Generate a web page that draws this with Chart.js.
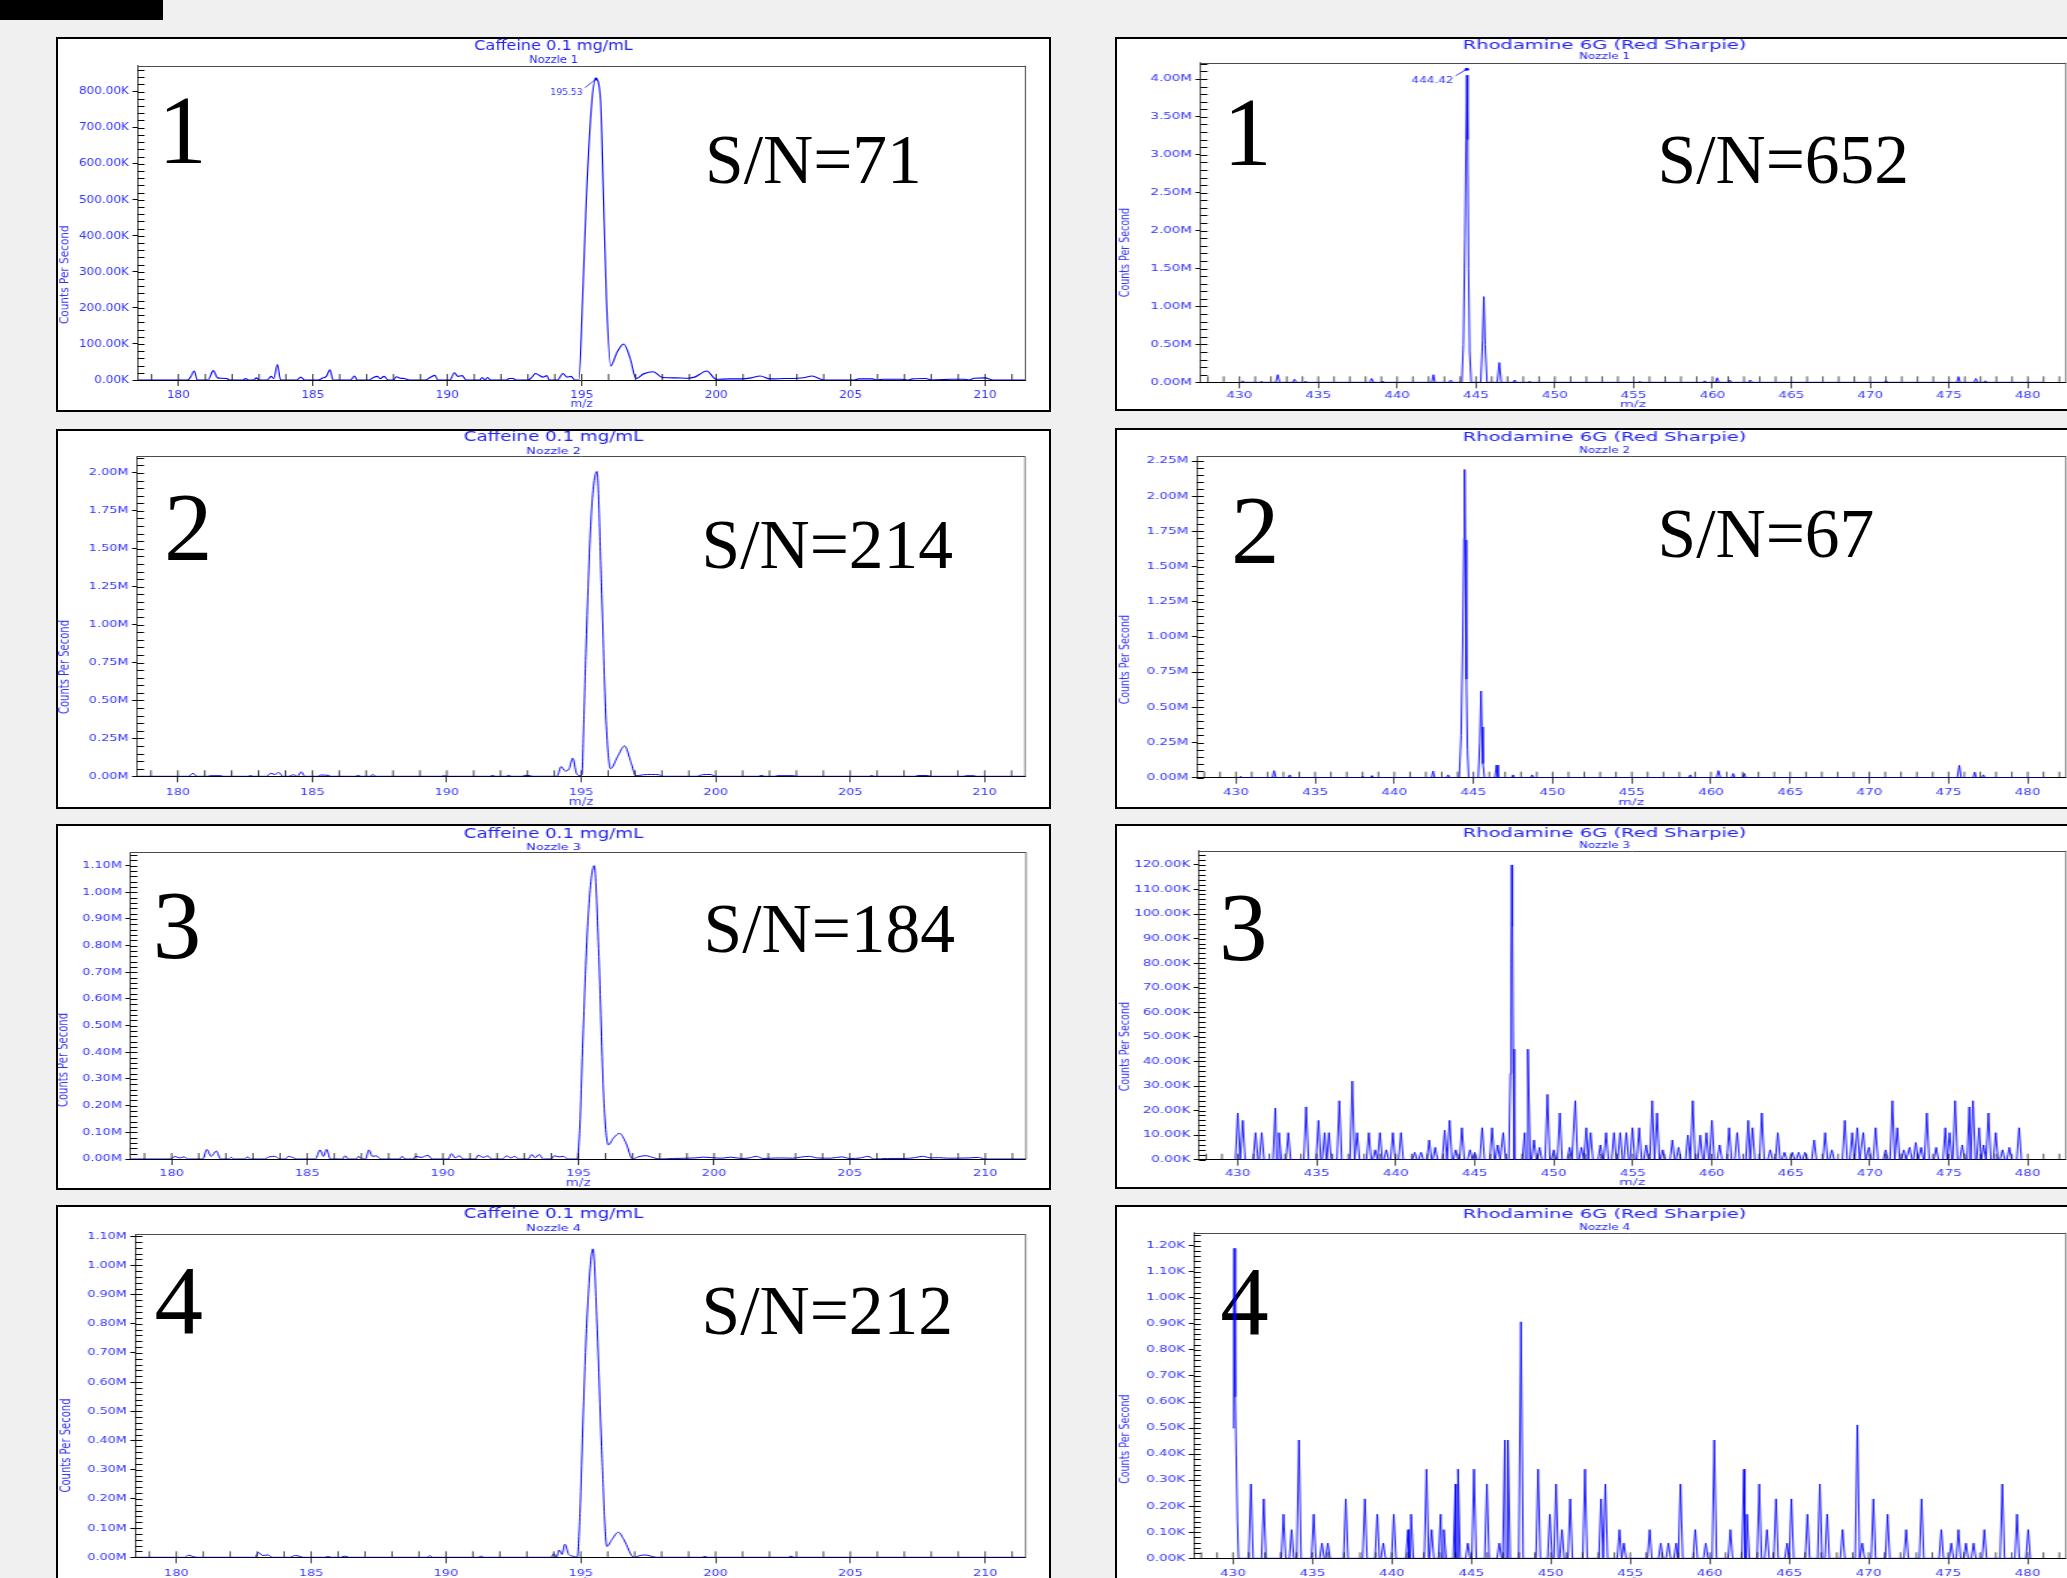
<!DOCTYPE html>
<html><head><meta charset="utf-8">
<script src="https://cdn.jsdelivr.net/npm/chart.js@4/dist/chart.umd.min.js"></script>
<style>
html,body{margin:0;padding:0;background:#f0f0f0;width:2067px;height:1578px;overflow:hidden;position:relative;}
.panel{position:absolute;box-sizing:border-box;border:2px solid #000;background:#fff;z-index:1;}
.big{position:absolute;font-family:"Liberation Serif","Times New Roman",serif;color:#000;line-height:1;white-space:nowrap;z-index:2;}
canvas{position:absolute;z-index:3;transform-origin:0 0;}
#blk{position:absolute;left:0;top:0;width:163px;height:20px;background:#000;}
</style></head><body>
<div id="blk"></div>
<script>
// ===== DATA (m/z, counts per second in axis units) =====
const cafRange = [178.48, 211.5];
const rhoRange = [427.53, 482.4];

// Caffeine nozzle 1 (K cps)
const caf1Points = [[178.5,0],[180.35,0],[180.45,8],[180.59,25],[180.7,0],[181.1,0],[181.3,26],[181.45,6],[181.6,5],[181.8,4],[181.9,0],[182.4,0],[182.5,4],[182.6,0],[182.8,0],[182.9,6],[183.0,0],[183.3,0],[183.45,10],[183.55,4],[183.68,43],[183.8,0],[184.4,0],[184.55,8],[184.7,0],[185.2,0],[185.35,5],[185.5,10],[185.64,28],[185.75,0],[186.4,0],[186.55,11],[186.65,0],[187.1,0],[187.25,7],[187.4,10],[187.5,4],[187.65,10],[187.8,0],[188.0,0],[188.1,9],[188.25,5],[188.4,4],[188.6,0],[189.2,0],[189.3,4],[189.54,13],[189.65,0],[190.1,0],[190.26,20],[190.4,10],[190.55,12],[190.7,0],[191.2,0],[191.3,7],[191.4,0],[191.5,7],[191.6,0],[192.2,0],[192.3,4],[192.45,4],[192.55,0],[193.0,0],[193.15,8],[193.28,18],[193.42,13],[193.55,8],[193.7,12],[193.8,0],[194.1,0],[194.3,18],[194.45,8],[194.6,10],[194.75,0],[194.89,0],[195.03,222],[195.17,500],[195.38,777],[195.53,835],[195.7,777],[195.81,500],[195.92,222],[196.08,39],[196.3,75],[196.56,100],[196.8,60],[197.02,4],[197.3,17],[197.66,23],[198.0,7],[198.5,6],[198.94,5],[199.2,8],[199.65,25],[200.0,2],[200.5,3],[201.0,3],[201.3,6],[201.64,11],[202.0,3],[202.5,4],[203.0,5],[203.3,7],[203.56,11],[204.0,0],[205.1,0],[205.3,3],[205.8,3],[206.0,0],[206.2,2],[206.9,2],[207.1,0],[207.3,3],[207.8,4],[208.0,0],[208.8,2],[209.2,2],[209.4,0],[209.6,5],[210.0,6],[210.3,0],[211.5,0]];
const caf1Label = [195.53, 835];

// Caffeine nozzle 2 (M cps)
const caf2Points = [[178.5,0],[180.4,0],[180.56,0.02],[180.7,0],[181.1,0],[181.2,0.004],[181.6,0.004],[181.7,0],[182.6,0],[182.7,0.005],[182.8,0],[183.3,0],[183.45,0.02],[183.6,0.012],[183.75,0.025],[183.9,0],[184.1,0],[184.3,0.01],[184.45,0],[184.59,0.03],[184.72,0],[185.2,0],[185.3,0.008],[185.6,0.006],[185.7,0],[186.6,0],[186.7,0.006],[186.8,0],[187.15,0],[187.25,0.012],[187.35,0],[189.8,0],[189.9,0.004],[190.0,0],[191.6,0],[191.7,0.006],[191.8,0],[192.2,0],[192.3,0.006],[192.4,0],[192.8,0],[192.9,0.006],[193.1,0.004],[193.2,0],[194.1,0],[194.25,0.064],[194.4,0.035],[194.55,0.05],[194.68,0.12],[194.82,0.02],[194.95,0.005],[195.02,0.01],[195.1,0.4],[195.17,0.81],[195.36,1.69],[195.58,2.01],[195.75,1.25],[195.92,0.37],[196.09,0.05],[196.35,0.13],[196.61,0.2],[196.85,0.09],[197.03,0.003],[197.3,0.01],[197.6,0.012],[197.9,0.01],[198.0,0],[199.3,0],[199.5,0.01],[199.8,0.012],[200.0,0],[201.6,0],[201.7,0.006],[201.8,0],[202.2,0],[202.3,0.004],[202.9,0.004],[203.0,0],[205.7,0],[205.8,0.005],[205.9,0],[207.4,0],[207.5,0.005],[207.9,0.005],[208.0,0],[209.2,0],[209.3,0.004],[209.6,0.004],[209.7,0],[211.5,0]];

// Caffeine nozzle 3 (M cps)
const caf3Points = [[178.5,0],[180.0,0],[180.1,0.01],[180.3,0.004],[180.45,0.008],[180.6,0],[181.15,0],[181.3,0.036],[181.45,0.01],[181.65,0.03],[181.8,0],[182.1,0],[182.2,0.006],[182.3,0],[182.7,0],[182.8,0.008],[182.9,0],[183.4,0],[183.6,0.008],[183.8,0.01],[184.0,0],[184.2,0],[184.3,0.01],[184.5,0.004],[184.6,0],[185.3,0],[185.47,0.034],[185.6,0.01],[185.71,0.036],[185.85,0],[186.3,0],[186.4,0.012],[186.5,0],[186.8,0],[186.9,0.01],[187.0,0],[187.15,0],[187.27,0.034],[187.4,0.01],[187.55,0.012],[187.7,0],[188.4,0],[188.5,0.01],[188.6,0],[188.9,0],[189.0,0.01],[189.2,0.006],[189.45,0.014],[189.6,0],[190.2,0],[190.32,0.02],[190.45,0.004],[190.6,0.012],[190.75,0],[191.2,0],[191.3,0.014],[191.5,0.006],[191.65,0.012],[191.8,0],[192.2,0],[192.35,0.012],[192.5,0.004],[192.65,0.01],[192.8,0],[193.15,0],[193.27,0.017],[193.4,0.005],[193.55,0.017],[193.7,0],[194.0,0],[194.1,0.012],[194.3,0.008],[194.45,0.01],[194.6,0],[194.95,0],[195.05,0.12],[195.15,0.415],[195.36,0.915],[195.58,1.1],[195.74,0.79],[195.93,0.23],[196.1,0.053],[196.3,0.08],[196.51,0.096],[196.75,0.06],[196.99,0],[197.2,0.008],[197.47,0.0125],[197.8,0.004],[198.0,0],[198.5,0.002],[199.3,0.004],[199.6,0.007],[199.9,0.005],[200.3,0.003],[200.6,0.007],[201.0,0.002],[201.3,0.004],[201.56,0.01],[201.8,0.002],[202.4,0.004],[202.9,0.003],[203.2,0.007],[203.5,0.01],[203.8,0.004],[204.3,0.003],[204.7,0.008],[205.0,0.002],[205.4,0.004],[205.67,0.01],[205.9,0],[206.4,0.002],[207.0,0.002],[207.4,0.005],[207.68,0.01],[208.0,0.004],[208.3,0.005],[208.6,0.003],[209.4,0.004],[209.72,0.006],[210.0,0],[211.5,0]];

// Caffeine nozzle 4 (M cps)
const caf4Points = [[178.5,0],[180.3,0],[180.45,0.007],[180.6,0.003],[180.75,0],[182.9,0],[183.05,0.016],[183.2,0.006],[183.4,0.008],[183.55,0],[184.2,0],[184.4,0.006],[184.55,0.004],[184.7,0],[185.5,0],[185.6,0.003],[185.75,0],[186.1,0],[186.25,0.004],[186.4,0],[189.3,0],[189.4,0.006],[189.5,0],[191.2,0],[191.3,0.004],[191.4,0],[193.9,0],[194.0,0.012],[194.1,0],[194.2,0.025],[194.3,0.01],[194.41,0.045],[194.55,0.01],[194.7,0.004],[194.87,0],[194.97,0.15],[195.09,0.49],[195.24,0.835],[195.45,1.056],[195.61,0.78],[195.77,0.38],[195.97,0.037],[196.15,0.06],[196.39,0.086],[196.6,0.06],[196.97,0],[197.2,0.006],[197.38,0.008],[197.6,0.004],[197.8,0],[199.5,0],[199.6,0.003],[199.7,0],[202.7,0],[202.8,0.004],[202.9,0],[211.5,0]];

// Rhodamine 6G nozzle 1 (M cps)
const rho1Points = [[430.1,0],[430.2,0.02],[430.3,0],[431.3,0],[431.4,0.015],[431.5,0],[432.3,0],[432.43,0.1],[432.55,0],[433.4,0],[433.49,0.04],[433.6,0],[434.1,0],[434.2,0.015],[434.3,0],[438.27,0],[438.38,0.05],[438.5,0],[439.0,0],[439.1,0.015],[439.2,0],[442.2,0],[442.3,0.1],[442.4,0],[443.3,0],[443.4,0.03],[443.5,0],[444.1,0],[444.2,0.5],[444.3,1.9],[444.37,3.2],[444.42,4.05],[444.47,3.2],[444.53,1.5],[444.6,0.4],[444.7,0],[445.3,0],[445.42,0.55],[445.5,1.13],[445.58,0.5],[445.7,0],[446.35,0],[446.48,0.26],[446.6,0],[447.35,0],[447.46,0.03],[447.55,0],[448.3,0],[448.4,0.015],[448.5,0],[455.3,0],[455.4,0.015],[455.5,0],[459.4,0],[459.5,0.02],[459.6,0],[460.2,0],[460.3,0.06],[460.4,0],[461.0,0],[461.1,0.03],[461.2,0],[462.3,0],[462.4,0.03],[462.5,0],[470.9,0],[471.0,0.02],[471.1,0],[475.5,0],[475.6,0.075],[475.7,0],[476.6,0],[476.7,0.05],[476.8,0],[477.2,0],[477.3,0.02],[477.4,0],[481.0,0]];
const rho1Label = [444.42, 4.13];

// Rhodamine 6G nozzle 2 (M cps)
const rho2Points = [[430.2,0],[430.3,0.01],[430.4,0],[432.3,0],[432.41,0.05],[432.52,0],[433.3,0],[433.4,0.02],[433.5,0],[437.9,0],[438.0,0.01],[438.1,0],[438.5,0],[438.6,0.015],[438.7,0],[442.35,0],[442.45,0.047],[442.55,0],[443.3,0],[443.4,0.02],[443.5,0],[444.1,0],[444.22,0.3],[444.32,0.95],[444.4,1.7],[444.44,2.19],[444.48,1.69],[444.55,0.7],[444.62,0.2],[444.7,0],[445.3,0],[445.4,0.25],[445.48,0.616],[445.53,0.36],[445.6,0.1],[445.7,0],[446.35,0],[446.46,0.09],[446.55,0],[447.4,0],[447.5,0.02],[447.6,0],[448.6,0],[448.7,0.02],[448.8,0],[458.6,0],[458.7,0.02],[458.8,0],[460.35,0],[460.47,0.05],[460.6,0],[461.3,0],[461.4,0.03],[461.5,0],[462.0,0],[462.1,0.03],[462.2,0],[475.55,0],[475.68,0.088],[475.8,0],[476.55,0],[476.65,0.04],[476.75,0],[477.1,0],[477.2,0.02],[477.3,0],[481.0,0]];

// Rhodamine 6G nozzle 3 (K cps): main peak profile + noise spikes [m/z, height]
const rho3Main = [[447.15,0],[447.25,35],[447.3,80],[447.34,120],[447.38,95],[447.43,45],[447.5,0]];
const rho3Spikes = [[430.0,19],[430.32,16],[431.13,11],[431.52,11],[432.38,21],[432.61,11],[433.2,11],[434.33,21.5],[435.11,16],[435.5,11],[435.77,11],[436.43,24],[437.25,32],[437.56,11],[438.3,11],[438.7,4],[439.0,11],[439.4,4],[439.82,11],[440.33,11],[441.2,3],[441.6,3],[442.12,8],[442.5,5],[443.1,12],[443.41,16],[443.8,4],[444.19,13],[444.7,4],[445.0,3],[445.47,13],[446.1,13],[446.45,6],[446.8,11],[448.16,11],[448.36,45],[448.75,8],[449.1,5],[449.6,26.6],[450.0,4],[450.38,19],[451.0,5],[451.36,24],[451.75,5],[452.06,13],[452.33,11],[452.95,6],[453.31,11],[453.81,11],[454.2,11],[454.59,11],[454.98,13],[455.41,13],[455.85,6],[456.23,24],[456.54,19],[456.9,4],[457.51,8],[457.9,5],[458.49,10],[458.8,24],[459.27,10],[459.66,11],[460.01,16],[460.5,6],[461.1,13],[461.61,11],[462.31,16],[462.58,13],[463.17,19],[463.7,4],[464.18,11],[464.6,3],[465.1,3],[465.5,3],[465.9,3],[466.48,8],[467.18,11],[467.6,4],[468.42,16],[468.89,11],[469.21,13],[469.59,11],[469.95,5],[470.37,13],[471.0,4],[471.43,24],[471.74,13],[472.15,4],[472.52,5],[472.91,7],[473.25,5],[473.61,19],[474.2,5],[474.78,13],[475.05,11],[475.4,24],[475.85,6],[476.3,21.5],[476.53,24],[476.92,13],[477.2,6],[477.51,19],[477.97,11],[478.4,4],[478.83,5],[479.45,13]];

// Rhodamine 6G nozzle 4 (K cps)
const rho4Main = [[430.0,0.5],[430.05,0.95],[430.08,1.19],[430.12,1.08],[430.16,0.62],[430.2,0.4],[430.28,0.14],[430.35,0]];
const rho4Spikes = [[431.13,0.285],[431.94,0.228],[433.18,0.169],[433.69,0.11],[434.15,0.454],[435.08,0.169],[435.6,0.058],[435.97,0.058],[437.1,0.228],[438.3,0.228],[439.08,0.169],[439.46,0.058],[440.12,0.169],[441.02,0.11],[441.21,0.169],[442.18,0.342],[442.5,0.11],[443.07,0.169],[443.27,0.11],[444.0,0.285],[444.16,0.342],[444.78,0.058],[445.17,0.342],[445.98,0.285],[446.76,0.058],[447.11,0.454],[447.3,0.454],[448.12,0.908],[449.2,0.342],[449.94,0.169],[450.33,0.285],[450.7,0.11],[451.22,0.228],[452.15,0.342],[453.16,0.228],[453.43,0.285],[454.32,0.11],[454.6,0.058],[456.22,0.11],[456.92,0.058],[457.4,0.058],[457.89,0.058],[458.16,0.285],[459.09,0.11],[459.75,0.058],[460.29,0.454],[461.3,0.11],[462.16,0.342],[462.35,0.169],[463.12,0.285],[463.6,0.11],[464.17,0.228],[464.87,0.058],[465.14,0.228],[466.15,0.169],[466.93,0.285],[467.39,0.169],[468.36,0.11],[469.29,0.512],[469.6,0.058],[470.3,0.228],[471.19,0.169],[472.36,0.11],[473.33,0.228],[474.57,0.11],[475.2,0.058],[475.65,0.11],[476.12,0.058],[476.6,0.058],[477.28,0.11],[478.41,0.285],[479.34,0.169],[480.04,0.11]];

// Titles / units / axis settings
const cafTitle = 'Caffeine 0.1 mg/mL';
const rhoTitle = 'Rhodamine 6G (Red Sharpie)';
const nozzles = ['Nozzle 1','Nozzle 2','Nozzle 3','Nozzle 4'];
const yUnits  = {c1:'K', c2:'M', c3:'M', c4:'M', r1:'M', r2:'M', r3:'K', r4:'K'};
const yMaxes  = {c1:872, c2:2.11, c3:1.15, c4:1.106, r1:4.215, r2:2.286, r3:125.8, r4:1.25};
const ySteps  = {c1:100, c2:0.25, c3:0.1, c4:0.1, r1:0.5, r2:0.25, r3:10, r4:0.1};
const yMinors = {c1:20, c2:0.05, c3:0.02, c4:0.02, r1:0.1, r2:0.05, r3:2, r4:0.02};
const snLabels = {c1:'S/N=71', c2:'S/N=214', c3:'S/N=184', c4:'S/N=212', r1:'S/N=652', r2:'S/N=67'};

// ===== LAYOUT (pixel positions, sizes, styles) =====
const FONT = '"DejaVu Sans", Verdana, sans-serif';
const TICK_COLOR = '#3434ff';
const TITLE_COLOR = '#2222f4';
const LINE_COLOR = '#0000ff';
const cFonts = {title:13.5, sub:9.5, tick:9.5, axis:10};
const rFonts = {title:13, sub:8, tick:9, axis:9.5};
const layout = {
  c1:{box:[56,37,995,375], plot:[137.5,1025.4,65.7,380], sx:1.15, titleY:46.7, subY:60.3, xTickY:395, xTitleY:404, yTitle:[65.4,274.7], fonts:{title:14, sub:10, tick:10.5, axis:10.5}},
  c2:{box:[56,429,995,380], plot:[137,1025,456.3,776.3], sx:1.35, titleY:437.7, subY:451.3, xTickY:792.3, xTitleY:803.3, yTitle:[65.4,667], fonts:cFonts},
  c3:{box:[56,824,995,366], plot:[130.4,1026,852.3,1159], sx:1.35, titleY:834, subY:847.3, xTickY:1174, xTitleY:1183.3, yTitle:[64.1,1060], fonts:cFonts},
  c4:{box:[56,1205,995,385], plot:[135.4,1025.6,1234.3,1557.3], sx:1.35, titleY:1214.7, subY:1228.3, xTickY:1573.3, xTitleY:1582, yTitle:[66,1445.5], fonts:cFonts},
  r1:{box:[1115,37,979,374], plot:[1200.5,2065.7,62.7,382.3], sx:1.5, titleY:45.7, subY:57.3, xTickY:395.7, xTitleY:405, yTitle:[1125.6,252.5], fonts:rFonts},
  r2:{box:[1115,428,979,381], plot:[1196.8,2065.7,456,777.7], sx:1.5, titleY:437.7, subY:450.7, xTickY:792.7, xTitleY:803.3, yTitle:[1125.6,659.7], fonts:rFonts},
  r3:{box:[1115,824,979,365], plot:[1198.7,2065.7,850.7,1159.7], sx:1.5, titleY:833.3, subY:845.7, xTickY:1174, xTitleY:1185, yTitle:[1125.2,1046.7], fonts:rFonts},
  r4:{box:[1115,1205,979,385], plot:[1193.7,2065.7,1232.7,1558.3], sx:1.5, titleY:1214.7, subY:1228, xTickY:1573.3, xTitleY:1582, yTitle:[1125.6,1439.2], fonts:rFonts}
};
const lineWidthFull = 1.3; // rendered width of vertical strokes, full px
const spikeHalfWidth = {r3:0.15, r4:0.14};
const peakLabelPos = {c1:{dx:-13.4, dy:13.4, lx:-11, ly:8.7, size:8}, r1:{dx:-13.3, dy:11.7, lx:-11.3, ly:6.7, size:8}};
// big overlay text: [text, panel, left, baseline, font size]
const bigText = [
  ['1','c1',158.3,163,97],['2','c2',164,560,97],['3','c3',152.8,958,97],['4','c4',154.5,1333,97],
  ['1','r1',1223.3,165,97],['2','r2',1231,563,97],['3','r3',1219,960,97],['4','r4',1220.3,1334,97]
];
const snPos = {c1:[705,183],c2:[701.5,568],c3:[703.5,952],c4:[701.5,1334],r1:[1657.5,183],r2:[1657.5,557]};
const SN_SIZE = 69.5;

function toXY(pairs){ return pairs.map(p => ({x:p[0], y:p[1]})); }
function spikeProfile(main, spikes, hw){
  const pts = toXY(main);
  spikes.forEach(([m, v]) => { pts.push({x:m-hw, y:0}, {x:m, y:v}, {x:m+hw, y:0}); });
  pts.sort((a, b) => a.x - b.x);
  return pts;
}

const series = {
  c1:{pts:toXY(caf1Points), smooth:true, title:cafTitle, sub:nozzles[0], range:cafRange, label:caf1Label},
  c2:{pts:toXY(caf2Points), smooth:true, title:cafTitle, sub:nozzles[1], range:cafRange},
  c3:{pts:toXY(caf3Points), smooth:true, title:cafTitle, sub:nozzles[2], range:cafRange},
  c4:{pts:toXY(caf4Points), smooth:true, title:cafTitle, sub:nozzles[3], range:cafRange},
  r1:{pts:toXY(rho1Points), smooth:false, title:rhoTitle, sub:nozzles[0], range:rhoRange, label:rho1Label},
  r2:{pts:toXY(rho2Points), smooth:false, title:rhoTitle, sub:nozzles[1], range:rhoRange},
  r3:{pts:spikeProfile(rho3Main, rho3Spikes, spikeHalfWidth.r3), smooth:false, title:rhoTitle, sub:nozzles[2], range:rhoRange},
  r4:{pts:spikeProfile(rho4Main, rho4Spikes, spikeHalfWidth.r4), smooth:false, title:rhoTitle, sub:nozzles[3], range:rhoRange}
};

const decor = {
  id:'decor',
  afterDraw(chart, args, o){
    const {ctx, chartArea:a, scales:{x, y}} = chart;
    const sx = o.sx;
    ctx.save();
    ctx.strokeStyle = '#4a4a4a';
    ctx.lineWidth = 1;
    ctx.beginPath(); ctx.moveTo(a.left, Math.round(a.top) + 0.5); ctx.lineTo(a.right, Math.round(a.top) + 0.5); ctx.stroke();
    ctx.lineWidth = 1 / sx;
    ctx.beginPath(); ctx.moveTo(a.right, a.top); ctx.lineTo(a.right, a.bottom); ctx.stroke();
    ctx.strokeStyle = '#000';
    ctx.lineWidth = 1;
    ctx.beginPath();
    for (let k = 0; k * o.yMinor <= y.max + 1e-9; k++){
      const py = Math.round(y.getPixelForValue(k * o.yMinor)) + 0.5;
      ctx.moveTo(a.left, py); ctx.lineTo(a.left + 7 / sx, py);
    }
    ctx.stroke();
    ctx.lineWidth = 1 / sx;
    ctx.beginPath();
    for (let m = Math.ceil(x.min); m <= x.max; m++){
      const px = x.getPixelForValue(m);
      ctx.moveTo(px, a.bottom); ctx.lineTo(px, a.bottom - 6);
    }
    ctx.stroke();
    ctx.save();
    ctx.translate(o.yTitle[0], o.yTitle[1]);
    ctx.rotate(-Math.PI / 2);
    ctx.font = o.axisSize + 'px ' + FONT;
    ctx.fillStyle = TICK_COLOR; ctx.textAlign = 'center'; ctx.textBaseline = 'middle';
    ctx.fillText('Counts Per Second', 0, 0);
    ctx.restore();
    if (o.peak){
      const px = x.getPixelForValue(o.peak[0]), py = y.getPixelForValue(o.peak[1]);
      const p = o.peakPos;
      ctx.fillStyle = LINE_COLOR; ctx.strokeStyle = LINE_COLOR; ctx.lineWidth = 0.8;
      ctx.beginPath(); ctx.arc(px, py, 1.5, 0, Math.PI * 2); ctx.fill();
      ctx.beginPath(); ctx.moveTo(px, py); ctx.lineTo(px + p.lx / sx, py + p.ly); ctx.stroke();
      ctx.font = p.size + 'px ' + FONT;
      ctx.fillStyle = TICK_COLOR; ctx.textAlign = 'right'; ctx.textBaseline = 'middle';
      ctx.fillText(o.peak[0].toFixed(2), px + p.dx / sx, py + p.dy);
    }
    ctx.restore();
  }
};

function addDiv(cls, l, t, w, h){
  const d = document.createElement('div');
  d.className = cls;
  d.style.left = l + 'px'; d.style.top = t + 'px';
  if (w !== undefined){ d.style.width = w + 'px'; d.style.height = h + 'px'; }
  document.body.appendChild(d);
  return d;
}

function buildPanel(key){
  const L = layout[key], S = series[key];
  const B = 2;
  const [bl, bt, bw, bh] = L.box;
  addDiv('panel', bl, bt, bw, bh);
  const innerW = bw - 2 * B, innerH = bh - 2 * B;
  const Wi = Math.round(innerW / L.sx);
  const sx = innerW / Wi;
  const cl = bl + B, ct = bt + B;
  const ix = v => (v - cl) / sx, iy = v => v - ct;
  const cv = document.createElement('canvas');
  cv.width = Wi; cv.height = innerH;
  cv.style.left = cl + 'px'; cv.style.top = ct + 'px';
  cv.style.width = Wi + 'px'; cv.style.height = innerH + 'px';
  cv.style.transform = 'scaleX(' + sx + ')';
  document.body.appendChild(cv);

  const f = L.fonts;
  const pt = Math.max(0, iy(L.titleY) - f.title / 2);
  const ps = Math.max(0, iy(L.subY) - f.sub / 2 - (pt + f.title));
  const pb = Math.max(0, iy(L.plot[2]) - (pt + f.title + ps + f.sub));
  const yW = ix(L.plot[0]);
  const rW = Wi - ix(L.plot[1]);
  const xH = innerH - iy(L.plot[3]);
  const xTickPad = Math.max(0, (L.xTickY - L.plot[3]) - 6 - f.tick / 2);
  const xTitlePad = Math.max(0, (ct + innerH - L.xTitleY) - f.axis / 2);
  const unit = yUnits[key];

  new Chart(cv, {
    type:'line',
    data:{datasets:[{
      data:S.pts, borderColor:LINE_COLOR, borderWidth:lineWidthFull / sx, pointRadius:0, fill:false,
      tension:0, cubicInterpolationMode: S.smooth ? 'monotone' : 'default'
    }]},
    options:{
      responsive:false, animation:false, devicePixelRatio:1, events:[],
      layout:{padding:0},
      plugins:{
        legend:{display:false}, tooltip:{enabled:false},
        title:{display:true, text:S.title, color:TITLE_COLOR, font:{family:FONT, size:f.title, weight:'normal', lineHeight:1}, padding:{top:pt, bottom:0}},
        subtitle:{display:true, text:S.sub, color:TITLE_COLOR, font:{family:FONT, size:f.sub, weight:'normal', lineHeight:1}, padding:{top:ps, bottom:pb}},
        decor:{sx:sx, yMinor:yMinors[key], yTitle:[ix(L.yTitle[0]), iy(L.yTitle[1])], axisSize:f.axis,
               peak:S.label || null, peakPos:peakLabelPos[key] || null}
      },
      scales:{
        x:{type:'linear', position:'bottom', min:S.range[0], max:S.range[1],
           afterFit(s){ s.height = xH; },
           ticks:{stepSize:5, includeBounds:false, autoSkip:false, maxRotation:0, minRotation:0,
                  color:TICK_COLOR, font:{family:FONT, size:f.tick, lineHeight:1}, padding:xTickPad,
                  callback:v => v.toFixed(0)},
           grid:{drawOnChartArea:false, drawTicks:true, tickLength:6, color:'#000', lineWidth:1 / sx},
           border:{display:true, color:'#000', width:1},
           title:{display:true, text:'m/z', color:TICK_COLOR, font:{family:FONT, size:f.axis, lineHeight:1}, padding:{top:0, bottom:xTitlePad}}},
        y:{type:'linear', position:'left', min:0, max:yMaxes[key],
           afterFit(s){ s.width = yW; },
           ticks:{stepSize:ySteps[key], includeBounds:false, autoSkip:false,
                  color:TICK_COLOR, font:{family:FONT, size:f.tick, lineHeight:1}, padding:3.5 / sx,
                  callback:v => v.toFixed(2) + unit},
           grid:{drawOnChartArea:false, drawTicks:true, tickLength:5 / sx, color:'#000', lineWidth:1},
           border:{display:true, color:'#000', width:1 / sx}},
        yR:{type:'linear', position:'right', display:true,
            afterFit(s){ s.width = rW; },
            ticks:{display:false}, grid:{display:false}, border:{display:false}}
      }
    },
    plugins:[decor]
  });
}

['c1','c2','c3','c4','r1','r2','r3','r4'].forEach(buildPanel);

bigText.forEach(([t, k, l, base, fs]) => {
  const d = addDiv('big', l, base - 0.8375 * fs);
  d.style.fontSize = fs + 'px';
  d.textContent = t;
});
Object.keys(snLabels).forEach(k => {
  const [l, base] = snPos[k];
  const d = addDiv('big', l, base - 0.8375 * SN_SIZE);
  d.style.fontSize = SN_SIZE + 'px';
  d.textContent = snLabels[k];
});
</script>
</body></html>
